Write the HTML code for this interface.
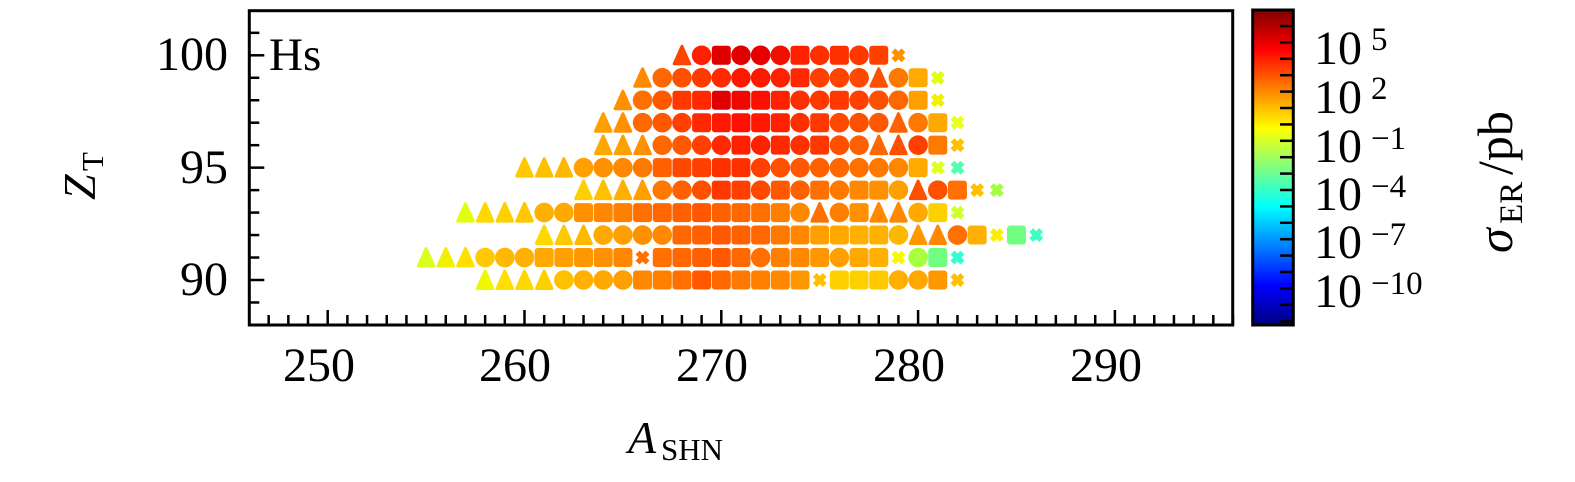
<!DOCTYPE html>
<html><head><meta charset="utf-8"><style>
html,body{margin:0;padding:0;background:#fff;}
svg{display:block;}
text{font-family:"Liberation Serif","DejaVu Serif",serif;fill:#000;}
</style></head><body>
<svg id="s" width="1575" height="482" viewBox="0 0 1575 482" xmlns="http://www.w3.org/2000/svg">
<defs>
<linearGradient id="jet" x1="0" y1="1" x2="0" y2="0">
<stop offset="0" stop-color="#000080"/>
<stop offset="0.125" stop-color="#0000ff"/>
<stop offset="0.375" stop-color="#00ffff"/>
<stop offset="0.625" stop-color="#ffff00"/>
<stop offset="0.875" stop-color="#ff0000"/>
<stop offset="1" stop-color="#800000"/>
</linearGradient>
</defs>
<g id="pts"></g>
<g id="ax"></g>
<rect x="249.3" y="10.7" width="983.4" height="314.3" fill="none" stroke="#000" stroke-width="3"/>
<text x="269" y="70" font-size="47">Hs</text>
<g font-size="48" text-anchor="end">
<text x="228" y="70">100</text>
<text x="228" y="183">95</text>
<text x="228" y="295">90</text>
</g>
<g font-size="48" text-anchor="middle">
<text x="319" y="381">250</text>
<text x="515" y="381">260</text>
<text x="712" y="381">270</text>
<text x="909" y="381">280</text>
<text x="1106" y="381">290</text>
</g>
<text x="628" y="453" font-size="46" font-style="italic">A</text>
<text x="661" y="460" font-size="31">SHN</text>
<g transform="translate(95,200) rotate(-90)">
<text x="0" y="0" font-size="46" font-style="italic">Z</text>
<text x="29" y="8" font-size="31">T</text>
</g>
<rect x="1252.7" y="10" width="40.6" height="315" fill="url(#jet)" stroke="#000" stroke-width="3"/>
<g id="cb"></g>
<g font-size="48">
<text x="1314" y="64">10</text><text x="1371" y="50" font-size="33">5</text>
<text x="1314" y="113">10</text><text x="1371" y="99" font-size="33">2</text>
<text x="1314" y="162">10</text><text x="1371" y="149" font-size="33">−1</text>
<text x="1314" y="210">10</text><text x="1371" y="197" font-size="33">−4</text>
<text x="1314" y="258">10</text><text x="1371" y="245" font-size="33">−7</text>
<text x="1314" y="307">10</text><text x="1371" y="294" font-size="33">−10</text>
</g>
<g transform="translate(1512,253) rotate(-90)">
<text x="0" y="0" font-size="50" font-style="italic">σ</text>
<text x="29" y="10" font-size="33">ER</text>
<text x="78" y="0" font-size="50">/pb</text>
</g>
</svg>
<script>
var NS="http://www.w3.org/2000/svg";
function el(p,t,a){var e=document.createElementNS(NS,t);for(var k in a)e.setAttribute(k,a[k]);p.appendChild(e);return e;}
var X=function(A){return 327.7+(A-250)*19.68;}, Y=function(Z){return 55.3+(100-Z)*22.47;};
var rows=[
[100,268,"tcscccscscsx",["#ff4400","#ff2000","#e00000","#e00000","#e80000","#f01000","#ff2000","#ff3000","#ff3000","#ff3800","#ff4000","#ff9000"]],
[99,266,"tcccccccsccctcsx",["#ff8a00","#ff6800","#ff5000","#ff3a00","#ff2a00","#ff1800","#ff1800","#ff2000","#ff2800","#ff4000","#ff4400","#ff4800","#ff5000","#ff7800","#ffaa00","#e0ff10"]],
[98,265,"tccssssssccscccsx",["#ff9000","#ff7000","#ff5800","#ff3800","#ff2800","#e00000","#f00800","#f81000","#ff2000","#ff3000","#ff3800","#ff3800","#ff4000","#ff5000","#ff6800","#ffa000","#f0f000"]],
[97,264,"ttcccssssscsccctcsx",["#ffa000","#ff9000","#ff6800","#ff5800","#ff4000","#ff2800","#ff1800","#ff1000","#ff1800","#ff2000","#ff3000","#ff3800","#ff4800","#ff5000","#ff5800","#ff6000","#ff7800","#ffa800","#e8ff20"]],
[96,264,"tttccccscscsccttcsx",["#ffa800","#ffa000","#ff9000","#ff6800","#ff5800","#ff4000","#ff2800","#ff2000","#ff2000","#ff2800","#ff3000","#ff3800","#ff5000","#ff6000","#ff6800","#ff5000","#ff4000","#ff7800","#ffc000"]],
[95,260,"tttccccssssscccccccccsxx",["#ffc800","#ffc000","#ffb800","#ffa000","#ff9000","#ff8800","#ff7800","#ff6000","#ff4800","#ff4000","#ff3000","#ff3000","#ff4000","#ff5000","#ff5800","#ff6000","#ff6800","#ff7000","#ff7800","#ff8800","#ffaa00","#e0ff20","#50ffb0"]],
[94,263,"ttttcccsscscscssctcsxx",["#ffd000","#ffc000","#ffb000","#ffa000","#ff7800","#ff6000","#ff5000","#ff3800","#ff4000","#ff4800","#ff5800","#ff6000","#ff7000","#ff7800","#ff8800","#ff9000","#ffa000","#ff5000","#ff5000","#ff7000","#ffc000","#a0ff40"]],
[93,257,"ttttccsssssssssssctcsttcsx",["#e0ff10","#ffd800","#ffd000","#ffc800","#ffb000","#ffa800","#ff9000","#ff8800","#ff8000","#ff7000","#ff6800","#ff6000","#ff5800","#ff6000","#ff6800","#ff7000","#ff8000","#ff8800","#ff7000","#ff8000","#ff9000","#ff8800","#ff8800","#ffa800","#ffd000","#d0ff30"]],
[92,261,"tttccccssssssssssscttcsxsx",["#ffd800","#ffc800","#ffb800","#ffa800","#ffa000","#ff9000","#ff8800","#ff6800","#ff6000","#ff5800","#ff6000","#ff6800","#ff7800","#ff8800","#ffa000","#ffa800","#ffb000","#ffb000","#ffb800","#ff9800","#ff8800","#ff7000","#ffb000","#f8f000","#70ff80","#40ffc0"]],
[91,255,"tttcccsssssxssssscssscssxcsx",["#d8ff20","#f0f000","#ffe000","#ffc800","#ffb800","#ffb000","#ffa800","#ffa000","#ff9800","#ff9000","#ff8800","#ff7000","#ff7000","#ff6800","#ff6000","#ff5800","#ff6800","#ff7000","#ff8000","#ff8800","#ff9800","#ffa000","#ffa800","#ffb000","#f8f800","#a8ff40","#70ff80","#30ffd0"]],
[90,258,"",["#f0f800","#ffe000","#ffd800","#ffd000","#ffc000","#ffb000","#ffa800","#ffa000","#ff8800","#ff8000","#ff7000","#ff5800","#ff6800","#ff7800","#ff8000","#ff8800","#ff9800","#ffc000","#ffd000","#ffd000","#ffc800","#ffb000","#ffa800","#ff9800","#ffc000"]]
];
rows[5][2]="tttcccc"+"sssss"+"cccccccc"+"s"+"xx";
rows[10][2]="ttttcccc"+"sssss"+"ssss"+"x"+"sss"+"cc"+"s"+"x";
var g=document.getElementById("pts");
rows.forEach(function(r){
  var Z=r[0],A0=r[1],sh=r[2],cl=r[3];
  for(var i=0;i<sh.length;i++){
    var x=X(A0+i),y=Y(Z),c=cl[i]||cl[cl.length-1],t=sh[i];
    if(t=="s")el(g,"rect",{x:x-9.5,y:y-9.5,width:19,height:19,rx:3,fill:c});
    else if(t=="c")el(g,"circle",{cx:x,cy:y,r:9.8,fill:c});
    else if(t=="t")el(g,"polygon",{points:(x)+","+(y-9)+" "+(x+7.8)+","+(y+8.5)+" "+(x-7.8)+","+(y+8.5),fill:c,stroke:c,"stroke-width":3,"stroke-linejoin":"round"});
    else el(g,"path",{d:"M"+(x-5)+" "+(y-5)+"L"+(x+5)+" "+(y+5)+"M"+(x+5)+" "+(y-5)+"L"+(x-5)+" "+(y+5),stroke:c,"stroke-width":5.5,fill:"none"});
  }
});
var ax=document.getElementById("ax");
for(var A=247;A<=296;A++){var x=X(A),L=(A%10==0)?15:10;el(ax,"line",{x1:x,y1:325,x2:x,y2:325-L,stroke:"#000","stroke-width":2.5});}
for(var Z=89;Z<=101;Z++){var y=Y(Z),L=(Z%5==0)?15:10;el(ax,"line",{x1:249.3,y1:y,x2:249.3+L,y2:y,stroke:"#000","stroke-width":2.5});}
var cb=document.getElementById("cb");
for(var k=0;k<19;k++){var y=26+k*16.4;el(cb,"line",{x1:1293.3,y1:y,x2:1280,y2:y,stroke:"#000","stroke-width":2.5});}
</script>
</body></html>
